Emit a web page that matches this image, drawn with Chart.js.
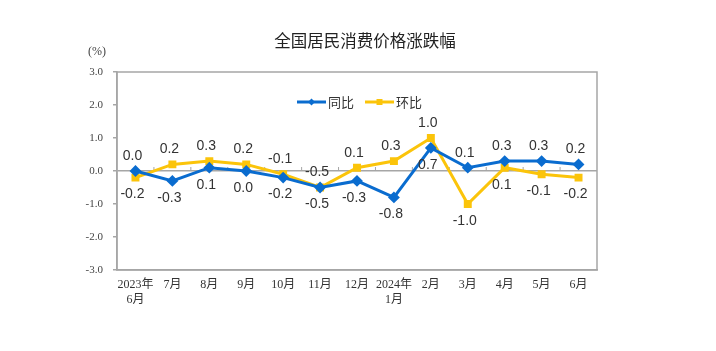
<!DOCTYPE html>
<html>
<head>
<meta charset="utf-8">
<script src="https://cdn.jsdelivr.net/npm/chart.js@4"></script>
<style>
  html, body { margin: 0; padding: 0; background: #fff; }
  #wrap { width: 716px; height: 351px; position: relative; }
</style>
</head>
<body>
<div id="wrap"><canvas id="cpiChart"></canvas></div>
<script>
// Data
const months = [["2023年", "6月"], "7月", "8月", "9月", "10月", "11月", "12月", ["2024年", "1月"], "2月", "3月", "4月", "5月", "6月"];
const yoy = [0.0, -0.3, 0.1, 0.0, -0.2, -0.5, -0.3, -0.8, 0.7, 0.1, 0.3, 0.3, 0.2];
const mom = [-0.2, 0.2, 0.3, 0.2, -0.1, -0.5, 0.1, 0.3, 1.0, -1.0, 0.1, -0.1, -0.2];
const yTicks = [3, 2, 1, 0, -1, -2, -3];

const BLUE = "#0a6ccf";
const YELLOW = "#fbc40a";
const GRAY = "#a6a6a6";
const SERIF = "'Liberation Serif', 'Noto Sans CJK SC', serif";
const SANS = "'Liberation Sans', Arial, sans-serif";

// frame, zero-line ticks, title, unit, legend and value labels
const extras = {
  id: "extras",
  beforeDatasetsDraw(chart) {
    const { ctx, chartArea: a, scales } = chart;
    ctx.save();
    ctx.strokeStyle = GRAY;
    ctx.lineWidth = 1.5;
    ctx.strokeRect(a.left, a.top, a.right - a.left, a.bottom - a.top);
    // small tick marks on the zero line between categories
    const y0 = scales.y.getPixelForValue(0);
    ctx.lineWidth = 1;
    for (let i = 1; i < months.length; i++) {
      const x = scales.x.getPixelForValue(i - 0.5);
      ctx.beginPath();
      ctx.moveTo(x, y0);
      ctx.lineTo(x, y0 - 4);
      ctx.stroke();
    }
    ctx.restore();
  },
  afterDraw(chart) {
    const { ctx } = chart;
    ctx.save();
    ctx.fillStyle = "#222";
    ctx.font = "16.5px 'Noto Sans CJK SC', sans-serif";
    ctx.textAlign = "center";
    ctx.textBaseline = "middle";
    ctx.fillText("全国居民消费价格涨跌幅", 365, 41);

    ctx.fillStyle = "#444";
    ctx.font = "12px " + SERIF;
    ctx.fillText("(%)", 97, 52);

    // legend
    const items = [
      { label: "同比", color: BLUE, x: 297, shape: "diamond" },
      { label: "环比", color: YELLOW, x: 365, shape: "square" },
    ];
    items.forEach((it) => {
      const yl = 102;
      ctx.strokeStyle = it.color;
      ctx.fillStyle = it.color;
      ctx.lineWidth = 3;
      ctx.beginPath();
      ctx.moveTo(it.x, yl);
      ctx.lineTo(it.x + 29, yl);
      ctx.stroke();
      const cx = it.x + 14.5;
      ctx.beginPath();
      if (it.shape === "diamond") {
        ctx.moveTo(cx, yl - 3.5);
        ctx.lineTo(cx + 3.5, yl);
        ctx.lineTo(cx, yl + 3.5);
        ctx.lineTo(cx - 3.5, yl);
      } else {
        ctx.rect(cx - 3, yl - 3, 6, 6);
      }
      ctx.fill();
      ctx.fillStyle = "#333";
      ctx.font = "13px 'Noto Sans CJK SC', sans-serif";
      ctx.textAlign = "left";
      ctx.fillText(it.label, it.x + 31, yl);
    });

    // value labels: higher series above, lower below
    const mb = chart.getDatasetMeta(0).data;
    const mm = chart.getDatasetMeta(1).data;
    ctx.fillStyle = "#333";
    ctx.font = "14px " + SANS;
    ctx.textAlign = "center";
    ctx.textBaseline = "middle";
    for (let i = 0; i < months.length; i++) {
      const blueUp = yoy[i] > mom[i];
      const up = blueUp ? mb[i] : mm[i];
      const dn = blueUp ? mm[i] : mb[i];
      const upVal = blueUp ? yoy[i] : mom[i];
      const dnVal = blueUp ? mom[i] : yoy[i];
      ctx.fillText(upVal.toFixed(1), up.x - 3, up.y - 15);
      ctx.fillText(dnVal.toFixed(1), dn.x - 3, dn.y + 17);
    }
    ctx.restore();
  },
};

new Chart(document.getElementById("cpiChart"), {
  type: "line",
  data: {
    labels: months,
    datasets: [
      {
        label: "同比",
        data: yoy,
        borderColor: BLUE,
        backgroundColor: BLUE,
        borderWidth: 3,
        pointStyle: "rectRot",
        pointRadius: 3.8,
        tension: 0,
      },
      {
        label: "环比",
        data: mom,
        borderColor: YELLOW,
        backgroundColor: YELLOW,
        borderWidth: 3,
        pointStyle: "rect",
        pointRadius: 3.5,
        tension: 0,
      },
    ],
  },
  options: {
    responsive: true,
    maintainAspectRatio: false,
    animation: false,
    layout: { padding: { top: 72, right: 119, left: 0, bottom: 0 } },
    plugins: {
      legend: { display: false },
      tooltip: { enabled: false },
    },
    scales: {
      x: {
        offset: true,
        grid: { display: false, drawTicks: false },
        border: { color: GRAY, width: 1.5 },
        ticks: {
          color: "#333",
          font: { family: SERIF, size: 12 },
          maxRotation: 0,
          autoSkip: false,
          padding: 8,
        },
        afterFit(scale) { scale.height = 81; },
      },
      y: {
        min: -3,
        max: 3,
        afterBuildTicks(scale) {
          scale.ticks = yTicks.map((v) => ({ value: v }));
        },
        grid: {
          color: (c) => (c.tick && c.tick.value === 0 ? GRAY : "rgba(0,0,0,0)"),
          lineWidth: 1.5,
          tickColor: GRAY,
          tickLength: 4,
        },
        border: { color: GRAY, width: 1.5 },
        ticks: {
          color: "#444",
          font: { family: SERIF, size: 11 },
          padding: 10,
          callback: (v) => Number(v).toFixed(1),
        },
        afterFit(scale) { scale.width = 117; },
      },
    },
  },
  plugins: [extras],
});
</script>
</body>
</html>
